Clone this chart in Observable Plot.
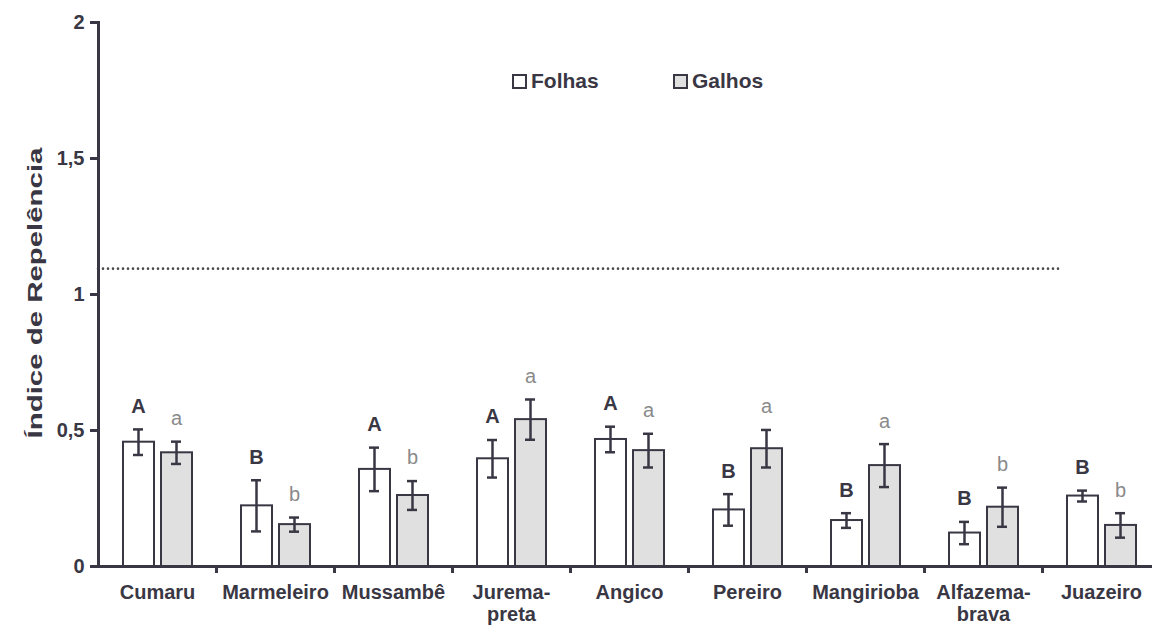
<!DOCTYPE html>
<html><head><meta charset="utf-8">
<script src="https://cdn.jsdelivr.net/npm/d3@7"></script>
<script src="https://cdn.jsdelivr.net/npm/@observablehq/plot@0.6"></script>
<style>
body{margin:0;background:#fff;font-family:"Liberation Sans",Arial,sans-serif;}
#wrap{position:relative;width:1152px;height:629px;overflow:hidden;}
#title{position:absolute;left:35px;top:293px;transform:translate(-50%,-50%) rotate(-90deg) scaleX(1.4);font-weight:bold;font-size:21px;color:#3a3744;white-space:nowrap;}
.lg{position:absolute;top:69px;font-weight:bold;font-size:21px;color:#3a3744;display:flex;align-items:center;gap:4px;line-height:24px;}
.sw{width:11px;height:11px;border:2px solid #3a3744;display:inline-block;}
</style>
</head><body>
<div id="wrap"></div>
<script>
const categories = ["Cumaru","Marmeleiro","Mussambê","Jurema-\npreta","Angico","Pereiro","Mangirioba","Alfazema-\nbrava","Juazeiro"];
const folhas    = [0.457,0.223,0.357,0.396,0.467,0.208,0.169,0.123,0.259];
const folhasErr = [0.047,0.094,0.080,0.069,0.047,0.058,0.027,0.041,0.020];
const galhos    = [0.418,0.154,0.261,0.540,0.426,0.433,0.371,0.218,0.151];
const galhosErr = [0.041,0.026,0.053,0.074,0.062,0.069,0.079,0.072,0.045];
const folhasLetters = ["A","B","A","A","A","B","B","B","B"];
const galhosLetters = ["a","b","b","a","a","a","a","b","b"];
const yTicks = [0,0.5,1,1.5,2];
const yTickLabels = ["0","0,5","1","1,5","2"];
const referenceLine = [1.095];
const seriesNames = ["Folhas","Galhos"];
const yTitle = "Índice de Repelência";

const ink = "#3a3744";
const F = categories.map((c,i)=>({cat:c, v:folhas[i], e:folhasErr[i], l:folhasLetters[i]}));
const G = categories.map((c,i)=>({cat:c, v:galhos[i], e:galhosErr[i], l:galhosLetters[i]}));

const chart = Plot.plot({
  width:1152, height:629,
  marginLeft:98, marginRight:-8, marginTop:22, marginBottom:63,
  style:{fontFamily:'"Liberation Sans",Arial,sans-serif', color:ink, background:"#fff"},
  x:{type:"band", domain:categories, padding:0},
  y:{domain:[0,2]},
  marks:[
    Plot.ruleY(referenceLine, {stroke:"#4a4a4a", strokeWidth:2.6, strokeDasharray:"0,5", strokeLinecap:"round", insetRight:100}),
    Plot.barY(F, {x:"cat", y:"v", fill:"#fff", stroke:ink, strokeWidth:2, insetLeft:25, insetRight:62}),
    Plot.barY(G, {x:"cat", y:"v", fill:"#e0e0e0", stroke:ink, strokeWidth:2, insetLeft:63, insetRight:24}),
    Plot.ruleX(F, {x:"cat", y1:d=>d.v-d.e, y2:d=>d.v+d.e, dx:-19, stroke:ink, strokeWidth:2.5}),
    Plot.ruleX(G, {x:"cat", y1:d=>d.v-d.e, y2:d=>d.v+d.e, dx:19, stroke:ink, strokeWidth:2.5}),
    Plot.tickY(F, {x:"cat", y:d=>d.v+d.e, stroke:ink, strokeWidth:2.5, insetLeft:35, insetRight:73}),
    Plot.tickY(F, {x:"cat", y:d=>d.v-d.e, stroke:ink, strokeWidth:2.5, insetLeft:35, insetRight:73}),
    Plot.tickY(G, {x:"cat", y:d=>d.v+d.e, stroke:ink, strokeWidth:2.5, insetLeft:73, insetRight:35}),
    Plot.tickY(G, {x:"cat", y:d=>d.v-d.e, stroke:ink, strokeWidth:2.5, insetLeft:73, insetRight:35}),
    Plot.text(F, {x:"cat", y:d=>d.v+d.e, text:"l", dx:-19, dy:-23, fontSize:20, fontWeight:"bold", fill:ink}),
    Plot.text(G, {x:"cat", y:d=>d.v+d.e, text:"l", dx:19, dy:-23, fontSize:20, fill:"#8a8a8a"}),
    Plot.frame({anchor:"left", stroke:ink, strokeWidth:3}),
    Plot.frame({anchor:"bottom", stroke:ink, strokeWidth:3}),
    Plot.axisY({ticks:yTicks, tickFormat:(d)=>yTickLabels[yTicks.indexOf(d)], tickSize:8, tickPadding:6, strokeWidth:3, stroke:ink, fontSize:20, fontWeight:"bold", label:null}),
    Plot.axisX({tickSize:0, tickPadding:17, fontSize:20, fontWeight:"bold", lineHeight:1.1, label:null}),
    Plot.axisX({tickSize:7, dx:59, tickFormat:()=>"", strokeWidth:3, stroke:ink, label:null})
  ]
});
const wrap = document.getElementById("wrap");
wrap.appendChild(chart);
const t = document.createElement("div"); t.id="title"; t.textContent = yTitle; wrap.appendChild(t);
const fills = ["#fff","#e0e0e0"], lefts=[512,673];
seriesNames.forEach((n,i)=>{
  const d=document.createElement("div"); d.className="lg"; d.style.left=lefts[i]+"px";
  const s=document.createElement("span"); s.className="sw"; s.style.background=fills[i];
  d.appendChild(s); d.appendChild(document.createTextNode(n)); wrap.appendChild(d);
});
</script>
</body></html>
